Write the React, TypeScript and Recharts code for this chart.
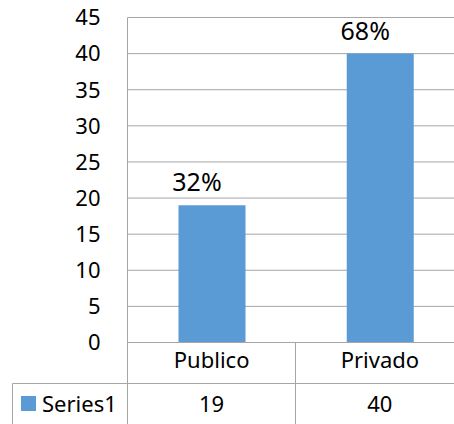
import { BarChart, Bar, XAxis, YAxis, CartesianGrid, LabelList } from "recharts";

const categories = ["Publico", "Privado"];
const series1 = [19, 40];
const yTicks = [0, 5, 10, 15, 20, 25, 30, 35, 40, 45];

const rows = categories.map((name, i) => ({ name, value: series1[i] }));
const total = series1.reduce((a, b) => a + b, 0);

const FONT = "'Noto Sans', sans-serif";
const BAR = "#5B9BD5";
const GRID = "#A6A6A6";

// data table under the axis: category name, then the series value
const TableTick = (props: any) => {
  const { x, y, payload } = props;
  return (
    <g>
      <text x={x} y={y + 25.5} textAnchor="middle" fontSize={22} fill="#000" fontFamily={FONT}>
        {payload.value}
      </text>
      <text x={x} y={y + 69.5} textAnchor="middle" fontSize={22} fill="#000" fontFamily={FONT}>
        {series1[payload.index]}
      </text>
    </g>
  );
};

const PctLabel = (props: any) => {
  const { x, y, width, value } = props;
  const pct = Math.round((value / total) * 100) + "%";
  return (
    <text x={x + width / 2 - 15} y={y - 14} textAnchor="middle" fontSize={25} fill="#000" fontFamily={FONT}>
      {pct}
    </text>
  );
};

export default function App() {
  return (
    <div
      style={{
        position: "absolute",
        left: 0,
        top: 0,
        width: 454,
        height: 424,
        overflow: "hidden",
        background: "#fff",
        fontFamily: FONT,
      }}
    >
      <BarChart width={464} height={424} data={rows} margin={{ top: 17.5, right: 0, bottom: 0, left: 0 }}>
        <CartesianGrid vertical={false} stroke={GRID} />
        <XAxis
          dataKey="name"
          height={81.5}
          axisLine={{ stroke: GRID }}
          tickLine={false}
          tickSize={0}
          tickMargin={0}
          tick={TableTick}
          interval={0}
        />
        <YAxis
          width={127.5}
          domain={[0, 45]}
          ticks={yTicks}
          axisLine={{ stroke: GRID }}
          tickLine={false}
          tickMargin={21}
          tick={{ fill: "#000", fontSize: 22, fontFamily: FONT }}
        />
        <Bar dataKey="value" fill={BAR} barSize={67} isAnimationActive={false}>
          <LabelList dataKey="value" content={PctLabel} />
        </Bar>
      </BarChart>
      {/* table grid lines and the legend key */}
      <svg width={464} height={424} style={{ position: "absolute", left: 0, top: 0, pointerEvents: "none" }}>
        <line x1={127.5} y1={342.5} x2={127.5} y2={424} stroke={GRID} />
        <line x1={295.5} y1={342.5} x2={295.5} y2={424} stroke={GRID} />
        <line x1={12.5} y1={383.5} x2={464} y2={383.5} stroke={GRID} />
        <line x1={12.5} y1={383.5} x2={12.5} y2={424} stroke={GRID} />
        <rect x={21} y={396} width={15} height={15} fill={BAR} />
        <text x={42} y={412} fontSize={22} fill="#000" fontFamily={FONT}>
          Series1
        </text>
      </svg>
    </div>
  );
}
